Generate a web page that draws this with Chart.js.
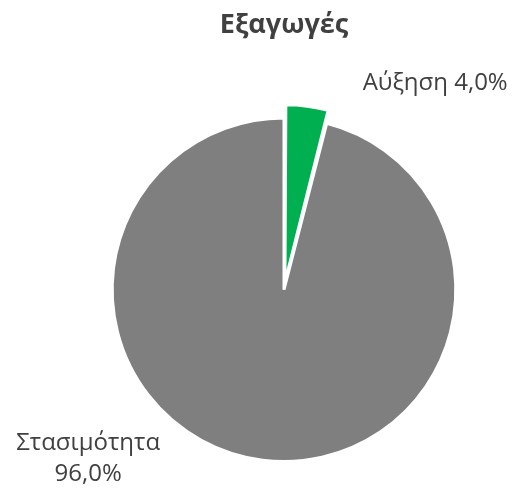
<!DOCTYPE html>
<html>
<head>
<meta charset="utf-8">
<script src="https://cdn.jsdelivr.net/npm/chart.js@4/dist/chart.umd.min.js"></script>
<style>
  html, body { margin: 0; padding: 0; background: #fff; }
  #wrap { width: 518px; height: 491px; }
</style>
</head>
<body>
<div id="wrap"><canvas id="pie"></canvas></div>
<script>
const title = "Εξαγωγές";
const categories = ["Αύξηση", "Στασιμότητα"];
const shares = [4.0, 96.0];
const colors = ["#00b050", "#7f7f7f"];
// label placement relative to the pie centre, in units of the radius
const labelSpots = [[0.88, -1.20, "line"], [-1.14, 0.98, "stack"]];

const fmt = v => v.toFixed(1).replace(".", ",") + "%";

const pieLabels = {
  id: "pieLabels",
  afterDatasetsDraw(chart) {
    const ctx = chart.ctx;
    const arcs = chart.getDatasetMeta(0).data;
    ctx.save();
    ctx.fillStyle = "#404040";
    ctx.font = "24px 'Open Sans'";
    ctx.textAlign = "center";
    ctx.textBaseline = "middle";
    arcs.forEach((a, i) => {
      const [fx, fy, mode] = labelSpots[i];
      const r = a.outerRadius;
      const x = a.x + fx * r, y = a.y + fy * r;
      if (mode === "line") {
        ctx.fillText(categories[i] + " " + fmt(shares[i]), x, y);
      } else {
        ctx.fillText(categories[i], x, y - 15);
        ctx.fillText(fmt(shares[i]), x, y + 16);
      }
    });
    ctx.restore();
  }
};

new Chart(document.getElementById("pie"), {
  type: "pie",
  data: {
    labels: categories,
    datasets: [{
      data: shares,
      backgroundColor: colors,
      borderColor: "#ffffff",
      borderWidth: 3,
      offset: [30, 0],
    }],
  },
  options: {
    responsive: true, maintainAspectRatio: false, animation: false,
    layout: { padding: { left: 80, right: 30, top: 0, bottom: 13 } },
    plugins: {
      legend: { display: false },
      tooltip: { enabled: false },
      title: {
        display: true, text: title, fullSize: false,
        color: "#404040",
        font: { family: "'Open Sans'", size: 27, weight: "bold" },
        padding: { top: 9, bottom: 60 },
      },
    },
  },
  plugins: [pieLabels],
});
</script>
</body>
</html>
